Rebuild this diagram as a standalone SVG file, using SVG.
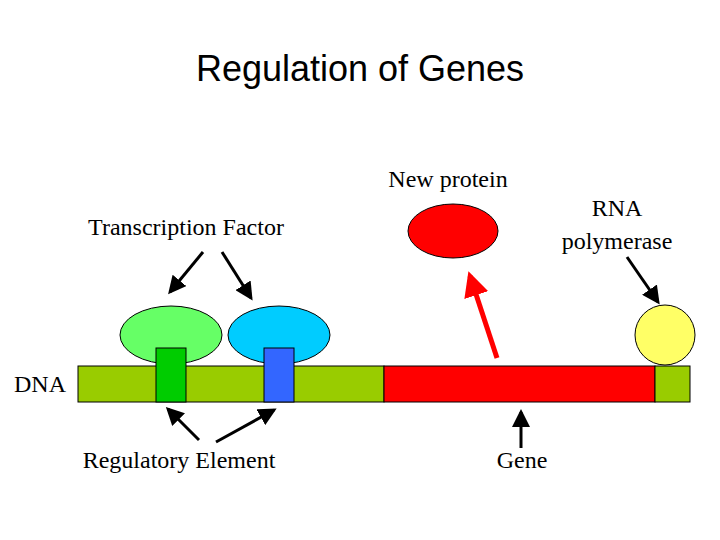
<svg xmlns="http://www.w3.org/2000/svg" width="720" height="540" viewBox="0 0 720 540">
<style>
.s{font-family:"Liberation Serif",serif;font-size:24px;fill:#000}
.ar{stroke:#000;stroke-width:3;fill:none;marker-end:url(#ah)}
.o{stroke:#000;stroke-width:1}
</style>
<defs>
<marker id="ah" markerWidth="6" markerHeight="6" refX="5" refY="3" orient="auto" markerUnits="strokeWidth"><path d="M0,0L6,3L0,6z" fill="#000"/></marker>
<marker id="ahr" markerWidth="5" markerHeight="5" refX="4" refY="2.5" orient="auto" markerUnits="strokeWidth"><path d="M0,0L5,2.5L0,5z" fill="#f00"/></marker>
</defs>
<rect width="720" height="540" fill="#fff"/>
<text x="360" y="81" text-anchor="middle" style="font-family:'Liberation Sans',sans-serif;font-size:36px">Regulation of Genes</text>
<g id="dna"><rect class="o" x="78" y="366" width="306" height="36" fill="#99cc00"/><rect class="o" x="384" y="366" width="271" height="36" fill="#ff0000"/><rect class="o" x="655" y="366" width="35" height="36" fill="#99cc00"/><text class="s" x="14" y="392">DNA</text></g>
<g id="tf1"><ellipse class="o" cx="171" cy="335" rx="51" ry="29" fill="#66ff66"/></g>
<g id="tf2"><ellipse class="o" cx="279" cy="335" rx="51" ry="29" fill="#00ccff"/></g>
<g id="re1"><rect class="o" x="156" y="348" width="30" height="54" fill="#00cc00"/></g>
<g id="re2"><rect class="o" x="264" y="348" width="30" height="54" fill="#3366ff"/></g>
<g id="pol"><ellipse class="o" cx="665" cy="335" rx="30" ry="30" fill="#ffff66"/><text class="s" x="617" y="216" text-anchor="middle">RNA</text><text class="s" x="617" y="249" text-anchor="middle">polymerase</text></g>
<g id="prot"><ellipse class="o" cx="453" cy="231" rx="45" ry="27" fill="#ff0000"/><text class="s" x="448" y="187" text-anchor="middle">New protein</text></g>
<text class="s" x="186" y="235" text-anchor="middle">Transcription Factor</text>
<text class="s" x="179" y="468" text-anchor="middle">Regulatory Element</text>
<text class="s" x="522" y="468" text-anchor="middle">Gene</text>
<g id="connectors">
<line class="ar" x1="203" y1="252" x2="170" y2="292"/>
<line class="ar" x1="222" y1="252" x2="251" y2="298"/>
<line class="ar" x1="199" y1="440" x2="168" y2="409"/>
<line class="ar" x1="216" y1="442" x2="274" y2="410"/>
<line class="ar" x1="521" y1="448" x2="521" y2="412"/>
<line class="ar" x1="627" y1="257" x2="658" y2="302"/>
<line x1="497" y1="358" x2="470" y2="276" stroke="#f00" stroke-width="5" marker-end="url(#ahr)"/>
</g>
</svg>
